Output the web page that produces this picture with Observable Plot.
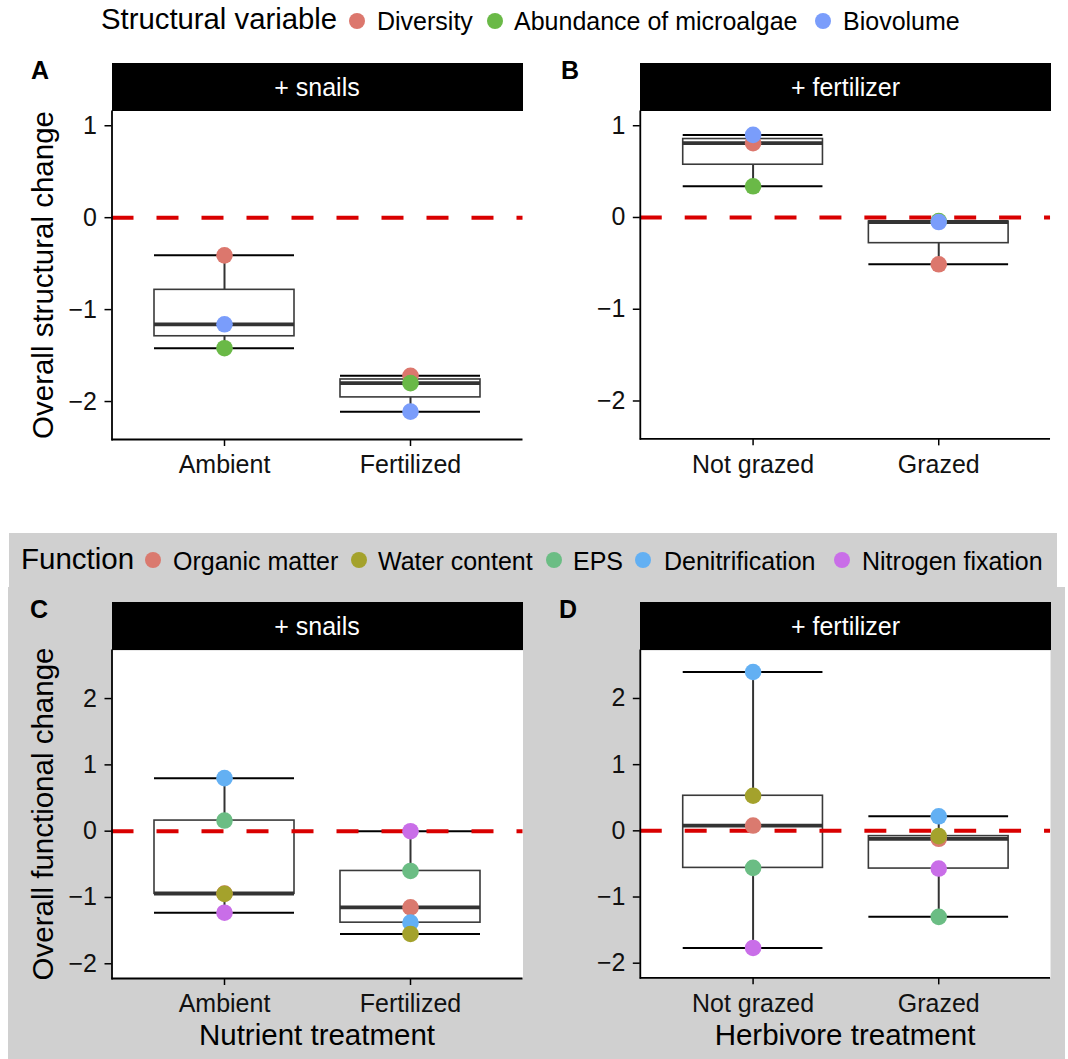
<!DOCTYPE html>
<html><head><meta charset="utf-8">
<script src="https://cdn.jsdelivr.net/npm/d3@7"></script>
<script src="https://cdn.jsdelivr.net/npm/@observablehq/plot@0.6"></script>
<style>
body{margin:0;background:#fff;font-family:"Liberation Sans",Arial,Helvetica,sans-serif;color:#000;}
#fig{position:relative;width:1068px;height:1059px;overflow:hidden;background:#fff;}
.abs{position:absolute;white-space:nowrap;}
.strip{position:absolute;background:#000;color:#fff;font-size:25px;display:flex;align-items:center;justify-content:center;}
.dot{position:absolute;width:16px;height:16px;border-radius:50%;}
.ltxt{position:absolute;font-size:25px;line-height:30px;white-space:nowrap;}
.letter{position:absolute;font-size:25px;font-weight:bold;line-height:25px;}
.ytitle{position:absolute;font-size:29.5px;white-space:nowrap;transform:translate(-50%,-50%) rotate(-90deg);}
.xtitle{position:absolute;font-size:29.5px;white-space:nowrap;transform:translate(-50%,-50%);}
</style></head>
<body><div id="fig"></div>
<script>
// ---------------- data ----------------
const structVars = ["Diversity", "Abundance of microalgae", "Biovolume"];
const structColors = ["#dc776d", "#6ab947", "#7a9dfb"];
const functionVars = ["Organic matter", "Water content", "EPS", "Denitrification", "Nitrogen fixation"];
const functionColors = ["#da7a6f", "#a4a22c", "#6bbd84", "#63b0f3", "#c96ee8"];
const nutrientLevels = ["Ambient", "Fertilized"];
const herbivoreLevels = ["Not grazed", "Grazed"];
const stripLabels = ["+ snails", "+ fertilizer", "+ snails", "+ fertilizer"];
const structTicks = [-2, -1, 0, 1];
const functionTicks = [-2, -1, 0, 1, 2];

// Panel A: + snails, structural change (Ambient, Fertilized)
const snailsDiversity = [-0.41, -1.72];
const snailsAbundance = [-1.42, -1.80];
const snailsBiovolume = [-1.16, -2.11];
// Panel B: + fertilizer, structural change (Not grazed, Grazed)
const fertDiversity = [0.81, -0.51];
const fertAbundance = [0.34, -0.04];
const fertBiovolume = [0.90, -0.05];
// Panel C: + snails, functional change (Ambient, Fertilized)
const snailsOrganic = [-0.94, -1.15];
const snailsWater = [-0.945, -1.55];
const snailsEPS = [0.16, -0.60];
const snailsDenit = [0.80, -1.38];
const snailsNfix = [-1.23, 0.0];
// Panel D: + fertilizer, functional change (Not grazed, Grazed)
const fertOrganic = [0.08, -0.12];
const fertWater = [0.53, -0.08];
const fertEPS = [-0.56, -1.30];
const fertDenit = [2.40, 0.22];
const fertNfix = [-1.77, -0.57];

// ---------------- layout helpers ----------------
const fig = document.getElementById("fig");
const FONT = '"Liberation Sans", Arial, Helvetica, sans-serif';
function add(html, cls, style) {
  const d = document.createElement("div");
  if (cls) d.className = cls;
  d.innerHTML = html;
  Object.assign(d.style, style);
  fig.appendChild(d);
  return d;
}

// gray background for bottom half
add("", "abs", {left: "9px", top: "533px", width: "1048px", height: "55px", background: "#d0d0d0"});
add("", "abs", {left: "8px", top: "587px", width: "1057px", height: "472px", background: "#d0d0d0"});

function panel({levels, names, colors, seriesValues, drawOrder, yDomain, yTicks, svgLeft, plotLeft, plotTop, plotW, plotH}) {
  const points = [];
  drawOrder.forEach(k => levels.forEach((lv, i) => points.push({level: lv, name: names[k], value: seriesValues[k][i]})));
  const stats = levels.map(lv => {
    const v = points.filter(p => p.level === lv).map(p => p.value).sort(d3.ascending);
    return {level: lv, min: v[0], q1: d3.quantile(v, 0.25), med: d3.quantile(v, 0.5), q3: d3.quantile(v, 0.75), max: v[v.length - 1]};
  });
  const mL = plotLeft - svgLeft, mR = 18, mB = 80;
  const chart = Plot.plot({
    width: mL + plotW + mR, height: plotH + mB,
    marginLeft: mL, marginRight: mR, marginTop: 0, marginBottom: mB,
    style: {fontFamily: FONT, fontSize: "25px", overflow: "visible", background: "transparent", color: "#111"},
    x: {type: "band", domain: levels, paddingInner: 0.25, paddingOuter: 0.225, label: null},
    y: {domain: yDomain, label: null},
    color: {domain: names, range: colors},
    marks: [
      Plot.frame({fill: "white", stroke: "none"}),
      Plot.ruleX(stats, {x: "level", y1: "min", y2: "q1", stroke: "#333", strokeWidth: 2}),
      Plot.ruleX(stats, {x: "level", y1: "q3", y2: "max", stroke: "#333", strokeWidth: 2}),
      Plot.tickY(stats, {x: "level", y: "min", stroke: "#000", strokeWidth: 2}),
      Plot.tickY(stats, {x: "level", y: "max", stroke: "#000", strokeWidth: 2}),
      Plot.barY(stats, {x: "level", y1: "q1", y2: "q3", fill: "white", stroke: "#3a3a3a", strokeWidth: 1.6}),
      Plot.tickY(stats, {x: "level", y: "med", stroke: "#333", strokeWidth: 3.8}),
      Plot.ruleY([0], {stroke: "#d90000", strokeWidth: 4, strokeDasharray: "22,23"}),
      Plot.dot(points, {x: "level", y: "value", fill: "name", r: 8.3}),
      Plot.axisY({ticks: yTicks, tickSize: 7, tickPadding: 8, tickFormat: d3.format("d"), label: null, fontSize: 25, stroke: "#000", strokeWidth: 1.5}),
      Plot.axisX({tickSize: 7, tickPadding: 9, label: null, fontSize: 25, stroke: "#000", strokeWidth: 1.5}),
      Plot.ruleY([yDomain[0]], {stroke: "#000", strokeWidth: 1.8}),
      Plot.frame({anchor: "left", stroke: "#000", strokeWidth: 1.8})
    ]
  });
  const wrap = document.createElement("div");
  wrap.className = "abs";
  Object.assign(wrap.style, {left: svgLeft + "px", top: plotTop + "px"});
  wrap.appendChild(chart);
  fig.appendChild(wrap);
}

const structDomain = [-2.413, 1.155];
const funcDomain = [-2.222, 2.725];
const PW = 411, PH = 328;

// strips
[[111.5, 63, 0], [640, 63, 1], [111.5, 602, 2], [640, 602, 3]].forEach(([x, y, k]) => {
  add(stripLabels[k], "strip", {left: x + "px", top: y + "px", width: PW + "px", height: "48px"});
});

panel({levels: nutrientLevels, names: structVars, colors: structColors,
  seriesValues: [snailsDiversity, snailsAbundance, snailsBiovolume], drawOrder: [0, 1, 2],
  yDomain: structDomain, yTicks: structTicks, svgLeft: 0, plotLeft: 111.5, plotTop: 111, plotW: PW, plotH: PH});
panel({levels: herbivoreLevels, names: structVars, colors: structColors,
  seriesValues: [fertDiversity, fertAbundance, fertBiovolume], drawOrder: [0, 1, 2],
  yDomain: structDomain, yTicks: structTicks, svgLeft: 528, plotLeft: 640, plotTop: 111, plotW: PW, plotH: PH});
panel({levels: nutrientLevels, names: functionVars, colors: functionColors,
  seriesValues: [snailsOrganic, snailsWater, snailsEPS, snailsDenit, snailsNfix], drawOrder: [0, 2, 3, 1, 4],
  yDomain: funcDomain, yTicks: functionTicks, svgLeft: 0, plotLeft: 111.5, plotTop: 650, plotW: PW, plotH: PH});
panel({levels: herbivoreLevels, names: functionVars, colors: functionColors,
  seriesValues: [fertOrganic, fertWater, fertEPS, fertDenit, fertNfix], drawOrder: [0, 2, 3, 1, 4],
  yDomain: funcDomain, yTicks: functionTicks, svgLeft: 528, plotLeft: 640, plotTop: 650, plotW: PW, plotH: PH});

// panel letters
add("A", "letter", {left: "31px", top: "58px"});
add("B", "letter", {left: "561px", top: "58px"});
add("C", "letter", {left: "30px", top: "597px"});
add("D", "letter", {left: "559px", top: "597px"});

// axis titles
add("Overall structural change", "ytitle", {left: "43px", top: "275px"});
add("Overall functional change", "ytitle", {left: "43px", top: "814px"});
add("Nutrient treatment", "xtitle", {left: "317px", top: "1035px"});
add("Herbivore treatment", "xtitle", {left: "845px", top: "1035px"});

// legends
add("Structural variable", "ltxt", {left: "101px", top: "4px", fontSize: "29.3px"});
const topDots = [357, 495, 823], topTexts = [377, 514, 843];
structVars.forEach((n, i) => {
  add("", "dot", {left: (topDots[i] - 8) + "px", top: "13px", background: structColors[i]});
  add(n, "ltxt", {left: topTexts[i] + "px", top: "6px"});
});
add("Function", "ltxt", {left: "21px", top: "544px", fontSize: "29.5px"});
const botDots = [153, 359, 554, 643, 842], botTexts = [173, 378, 573, 664, 862];
functionVars.forEach((n, i) => {
  add("", "dot", {left: (botDots[i] - 8) + "px", top: "552px", background: functionColors[i]});
  add(n, "ltxt", {left: botTexts[i] + "px", top: "546px"});
});
</script>
</body></html>
